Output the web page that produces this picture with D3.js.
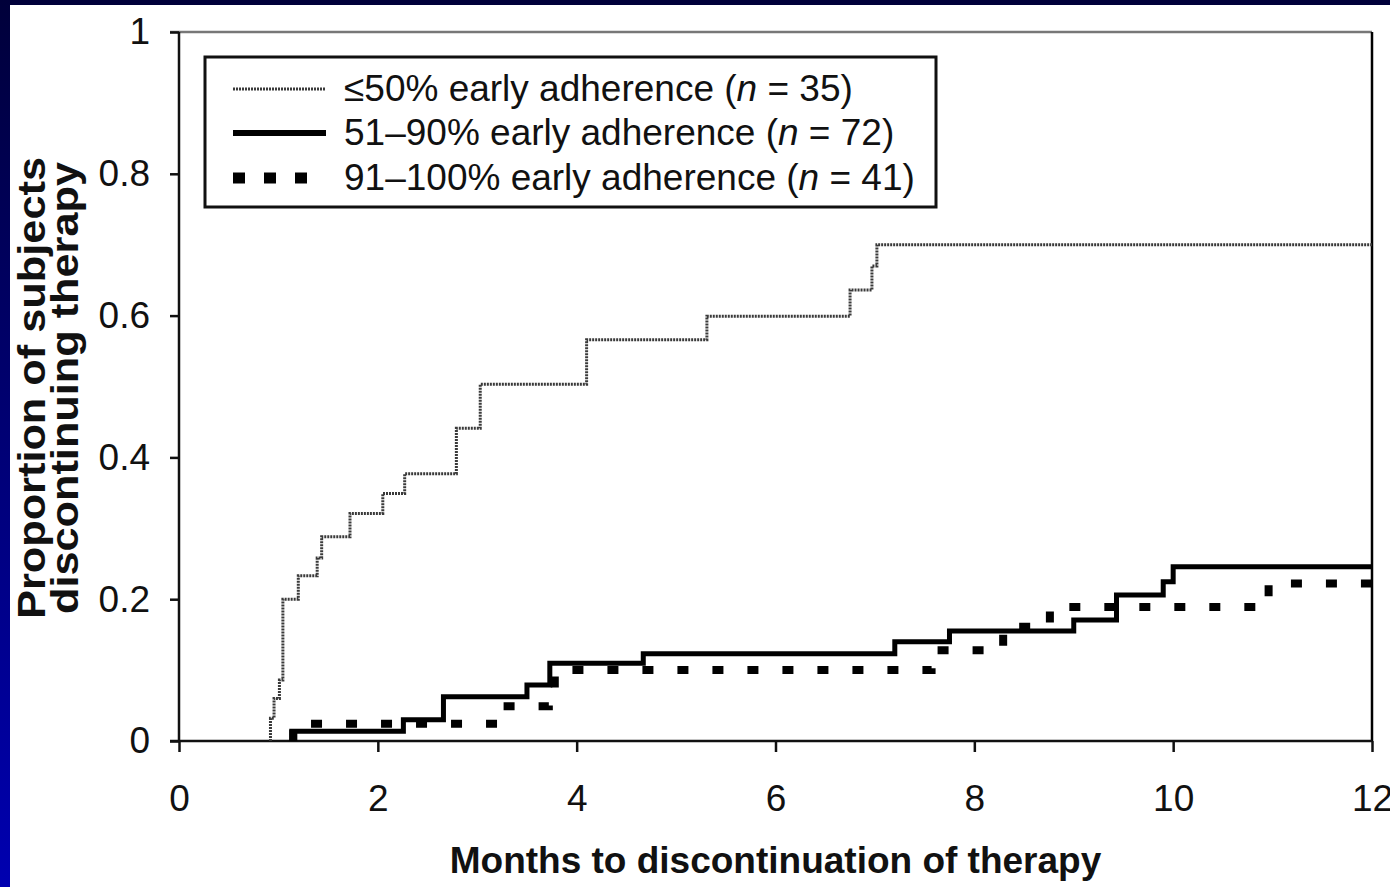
<!DOCTYPE html>
<html>
<head>
<meta charset="utf-8">
<script src="https://cdn.jsdelivr.net/npm/d3@7"></script>
<style>
    html, body { margin: 0; padding: 0; background: #000060; }
    svg { display: block; }
    text { font-family: "Liberation Sans", Arial, sans-serif; fill: #111; }
</style>
</head>
<body>
<div id="chart"></div>
<script>
/*global d3*/

// ---- data (months, cumulative proportion discontinuing) ----
var lowTimes  = [0, 0.92, 0.956, 1.01, 1.045, 1.20, 1.39, 1.435, 1.72, 2.05, 2.27, 2.79, 3.03, 4.10, 5.31, 6.75, 6.97, 7.02, 12];
var lowValues = [0, 0.032, 0.060, 0.086, 0.200, 0.233, 0.258, 0.288, 0.321, 0.349, 0.377, 0.441, 0.503, 0.566, 0.599, 0.636, 0.670, 0.700, 0.700];

var midTimes  = [0, 1.134, 2.257, 2.66, 3.50, 3.73, 4.67, 7.20, 7.75, 9.00, 9.43, 9.90, 10.0, 12];
var midValues = [0, 0.0139, 0.030, 0.0625, 0.079, 0.1095, 0.123, 0.140, 0.155, 0.1707, 0.206, 0.2247, 0.2459, 0.2459];

var highTimes  = [0, 1.15, 3.20, 3.72, 3.78, 7.57, 8.29, 8.76, 10.96, 12];
var highValues = [0, 0.0244, 0.049, 0.073, 0.100, 0.128, 0.161, 0.189, 0.222, 0.222];

var xTicks = [0, 2, 4, 6, 8, 10, 12];
var yTicks = [0, 0.2, 0.4, 0.6, 0.8, 1];
var yTickLabels = ["0", "0.2", "0.4", "0.6", "0.8", "1"];

var seriesNames = ["\u226450% early adherence", "51\u201390% early adherence", "91\u2013100% early adherence"];
var seriesN = [35, 72, 41];

var xTitle = "Months to discontinuation of therapy";
var yTitle = ["Proportion of subjects", "discontinuing therapy"];

(function () {
    "use strict";

    var W = 1390, H = 887;
    var plot = {left: 179, right: 1372, top: 32, bottom: 741};

    var x = d3.scaleLinear().domain([0, 12]).range([plot.left, plot.right]);
    var y = d3.scaleLinear().domain([0, 1]).range([plot.bottom, plot.top]);

    // line styles per series
    var styles = [
        {stroke: "#3a3a3a", width: 3, dash: "2,1"},
        {stroke: "#000", width: 5, dash: null},
        {stroke: "#000", width: 8, dash: "11,24"}
    ];

    // pairs of [time, value]; the flat run along zero is hidden by the axis,
    // so each curve starts at its first event
    var zip = function (ts, vs) {
        var pts = ts.map(function (t, i) { return [t, vs[i]]; }),
            k = 1;
        while (k < pts.length && pts[k][1] === 0) { k += 1; }
        pts = pts.slice(k - 1);
        pts[0] = [pts[1][0], 0];
        return pts;
    };
    var series = [zip(lowTimes, lowValues), zip(midTimes, midValues), zip(highTimes, highValues)];

    var svg = d3.select("#chart").append("svg")
        .attr("width", W)
        .attr("height", H);

    // blue slide frame
    var grad = svg.append("defs").append("linearGradient")
        .attr("id", "bg").attr("x1", 0).attr("y1", 0).attr("x2", 0).attr("y2", 1);
    grad.append("stop").attr("offset", "0%").attr("stop-color", "#00003a");
    grad.append("stop").attr("offset", "100%").attr("stop-color", "#0000b0");
    svg.append("rect").attr("width", W).attr("height", H).attr("fill", "url(#bg)");
    svg.append("rect")
        .attr("x", 10).attr("y", 5)
        .attr("width", W - 10).attr("height", H - 5)
        .attr("fill", "#fff");

    // frame of the plot: gray top, black right
    svg.append("line")
        .attr("x1", plot.left - 9).attr("x2", plot.right)
        .attr("y1", plot.top).attr("y2", plot.top)
        .attr("stroke", "#777").attr("stroke-width", 2.5);
    svg.append("line")
        .attr("x1", plot.right).attr("x2", plot.right)
        .attr("y1", plot.top).attr("y2", plot.bottom)
        .attr("stroke", "#000").attr("stroke-width", 2.5);

    // axes
    var xAxis = d3.axisBottom(x).tickValues(xTicks).tickSize(11).tickPadding(33)
        .tickFormat(d3.format("d"));
    var gx = svg.append("g")
        .attr("transform", "translate(0," + plot.bottom + ")")
        .call(xAxis);
    gx.select(".domain").attr("d", "M" + (plot.left - 9) + ",0H" + plot.right)
        .attr("stroke", "#111").attr("stroke-width", 2.5);

    var yAxis = d3.axisLeft(y).tickValues(yTicks).tickSize(9).tickPadding(20)
        .tickFormat(function (d, i) { return yTickLabels[i]; });
    var gy = svg.append("g")
        .attr("transform", "translate(" + plot.left + ",0)")
        .call(yAxis);
    gy.select(".domain").attr("d", "M0," + plot.top + "V" + plot.bottom)
        .attr("stroke", "#111").attr("stroke-width", 2.5);

    svg.selectAll(".tick line").attr("stroke", "#111").attr("stroke-width", 2.5);
    svg.selectAll(".tick text")
        .attr("font-family", "Liberation Sans, Arial, sans-serif")
        .attr("font-size", 37)
        .attr("fill", "#111");

    // step curves
    var line = d3.line()
        .curve(d3.curveStepAfter)
        .x(function (d) { return x(d[0]); })
        .y(function (d) { return y(d[1]); });

    svg.append("g").selectAll("path")
        .data(series)
        .join("path")
        .attr("d", line)
        .attr("fill", "none")
        .attr("stroke", function (d, i) { return styles[i].stroke; })
        .attr("stroke-width", function (d, i) { return styles[i].width; })
        .attr("stroke-dasharray", function (d, i) { return styles[i].dash; });

    // legend
    var legend = svg.append("g");
    legend.append("rect")
        .attr("x", 205).attr("y", 57)
        .attr("width", 731).attr("height", 150)
        .attr("fill", "#fff").attr("stroke", "#111").attr("stroke-width", 3);

    var rowY = [89, 133, 178];
    seriesNames.forEach(function (name, i) {
        legend.append("line")
            .attr("x1", 233).attr("x2", i === 2 ? 309 : 326)
            .attr("y1", rowY[i]).attr("y2", rowY[i])
            .attr("stroke", styles[i].stroke)
            .attr("stroke-width", i === 2 ? 11 : (i === 1 ? 6 : 3))
            .attr("stroke-dasharray", i === 2 ? "12,19" : styles[i].dash);

        var t = legend.append("text")
            .attr("x", 344).attr("y", rowY[i] + 12)
            .attr("font-size", 37);
        t.append("tspan").text(name + " (");
        t.append("tspan").attr("font-style", "italic").text("n");
        t.append("tspan").text(" = " + seriesN[i] + ")");
    });

    // axis titles
    svg.append("text")
        .attr("x", (plot.left + plot.right) / 2)
        .attr("y", 873)
        .attr("text-anchor", "middle")
        .attr("font-size", 37)
        .attr("font-weight", "bold")
        .text(xTitle);

    var yMid = 388;
    yTitle.forEach(function (s, i) {
        svg.append("text")
            .attr("transform", "translate(" + [45 + i * 33, yMid] + ") rotate(-90)")
            .attr("text-anchor", "middle")
            .attr("font-size", 38)
            .attr("font-weight", "bold")
            .attr("textLength", i === 0 ? 462 : 452)
            .attr("lengthAdjust", "spacingAndGlyphs")
            .text(s);
    });
}());
</script>
</body>
</html>
